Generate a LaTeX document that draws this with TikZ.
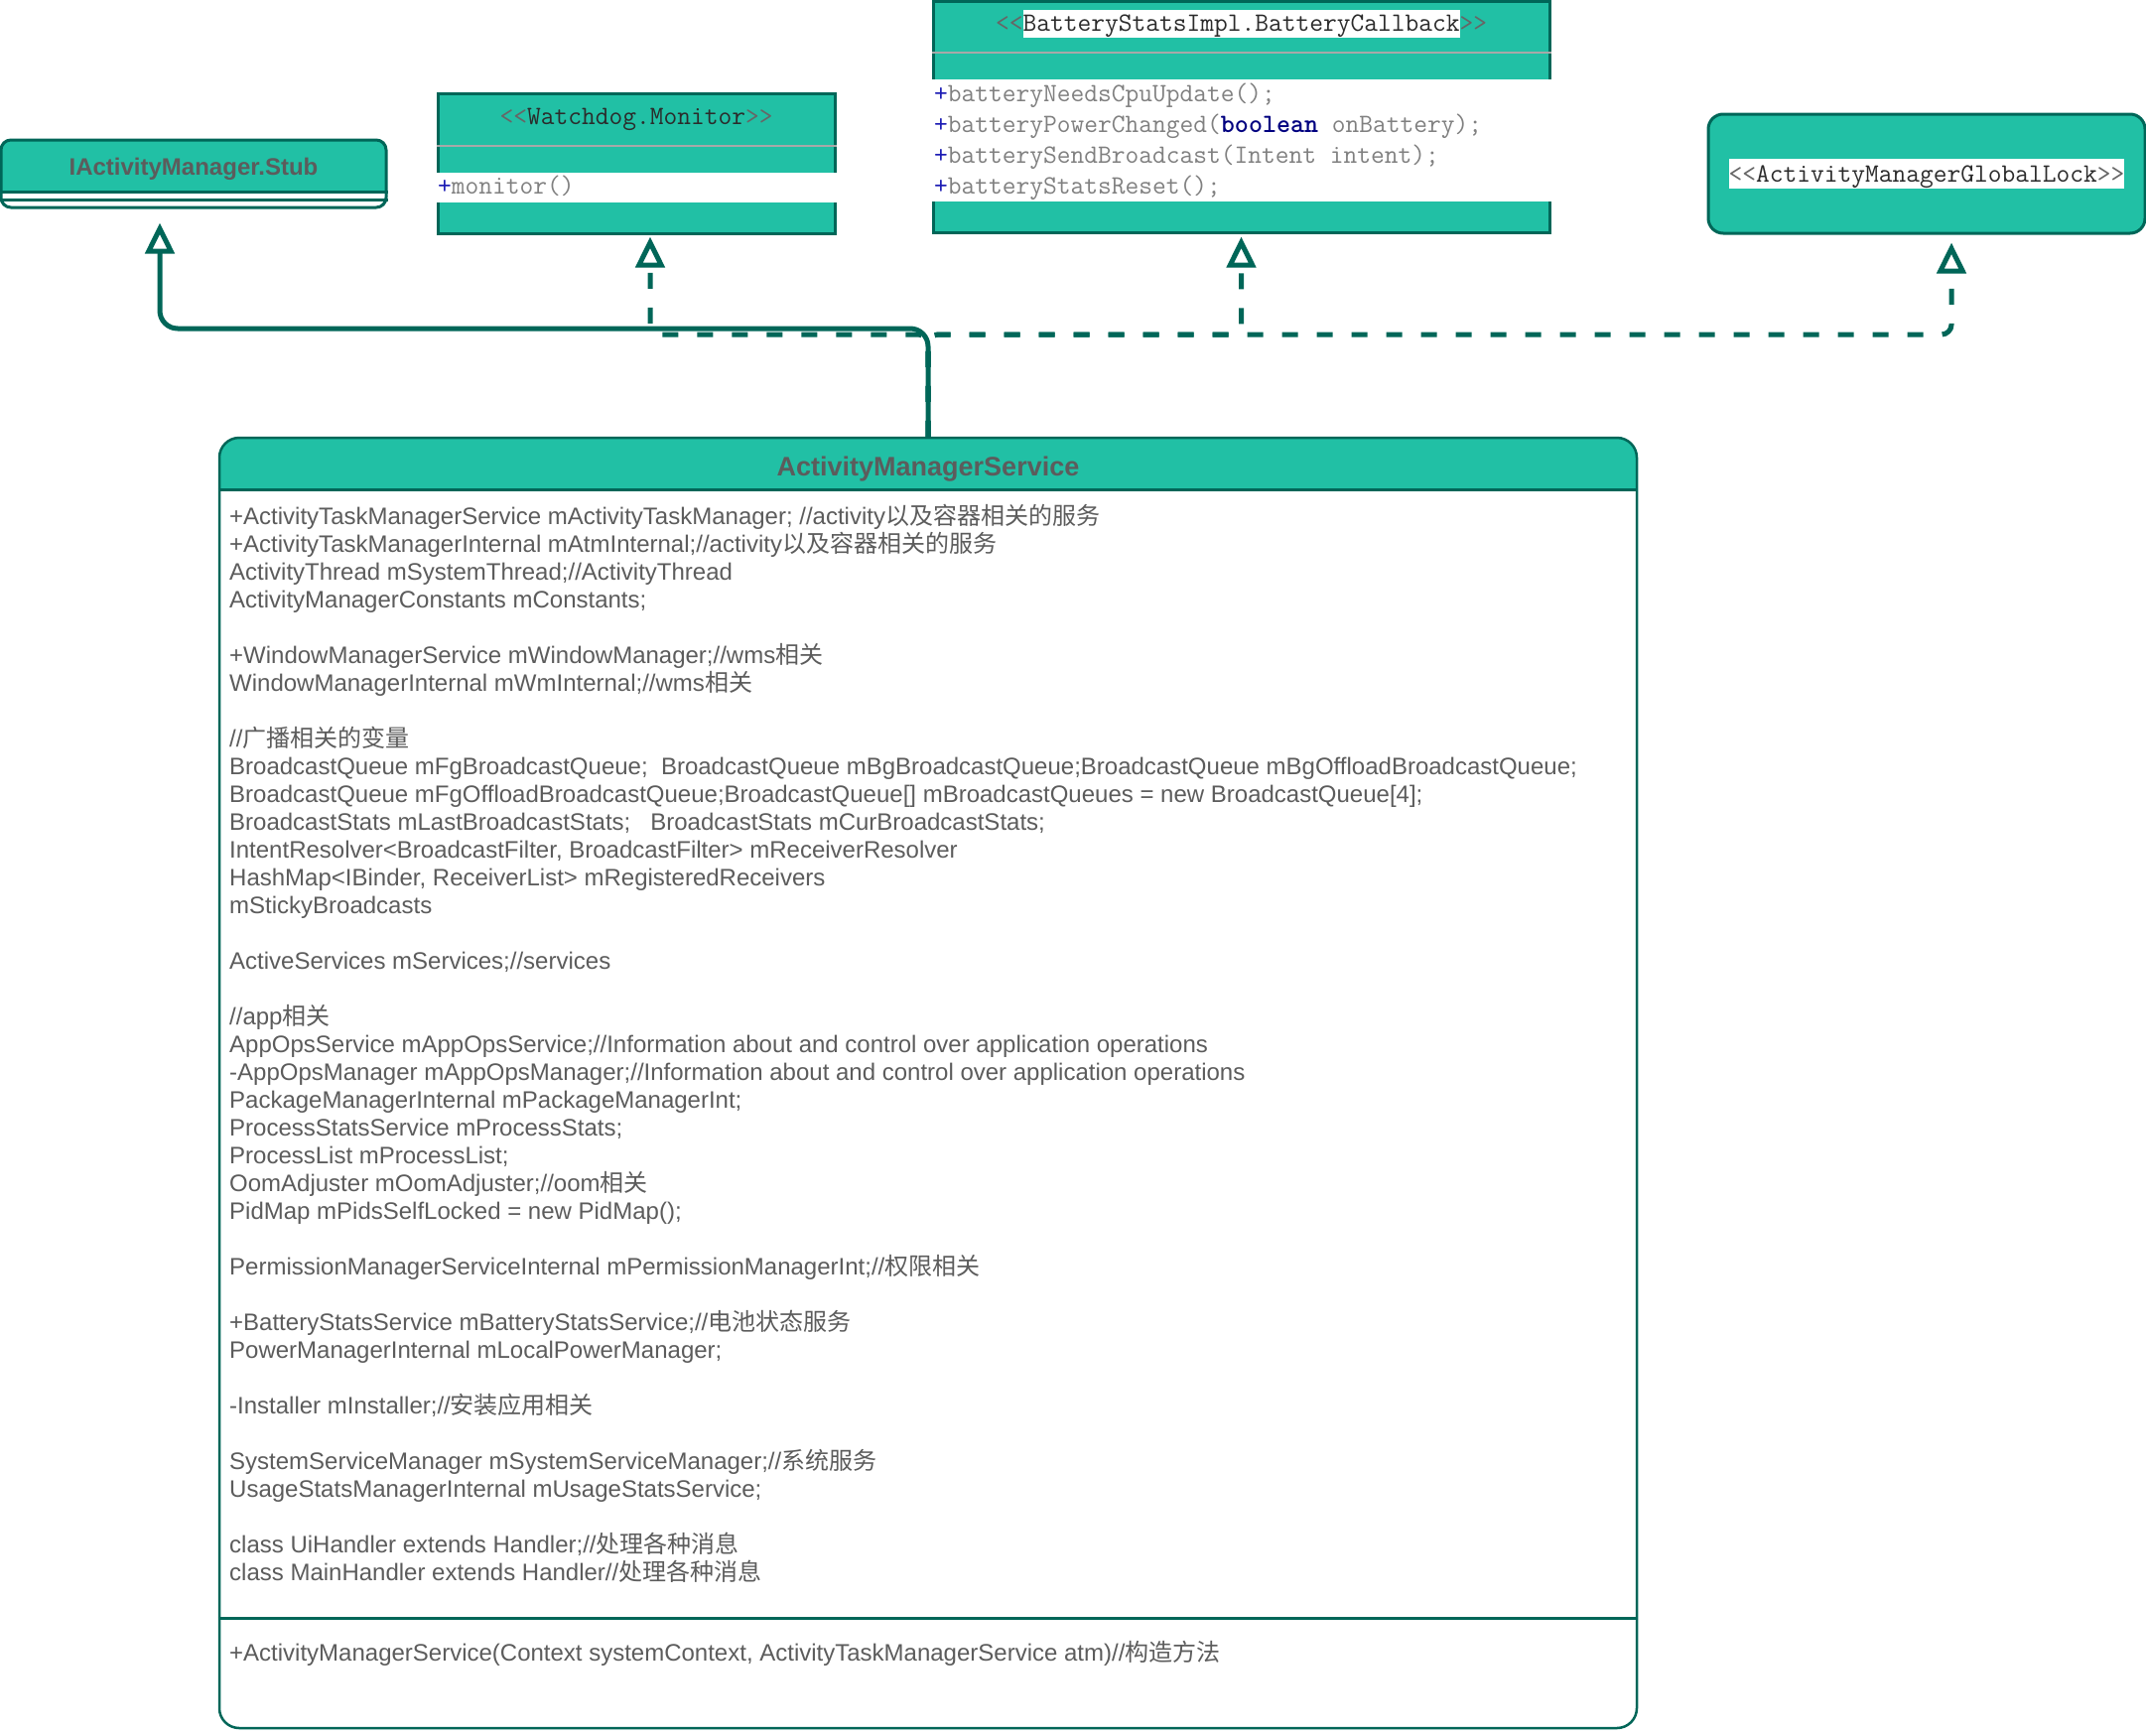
\documentclass[tikz,border=0pt]{standalone}
\usepackage{fontspec}
\setmainfont{Liberation Sans}
\newfontfamily\cjk{Noto Sans CJK SC}
\usetikzlibrary{arrows.meta}
\definecolor{boxFill}{HTML}{21C0A5}
\definecolor{boxLine}{HTML}{006658}
\definecolor{ink}{HTML}{5C5C5C}
\definecolor{sepGrey}{HTML}{A8A8A8}
\definecolor{codeGrey}{HTML}{808080}
\definecolor{guilGrey}{HTML}{666666}
\definecolor{codeInk}{HTML}{2B2B2B}
\definecolor{plusBlue}{HTML}{1C1CB4}
\definecolor{kwNavy}{HTML}{000080}
\newcommand{\zh}[1]{{\cjk #1}}
\newcommand{\ltlt}{\textcolor{guilGrey}{<\kern0pt<}}
\newcommand{\gtgt}{\textcolor{guilGrey}{>\kern0pt>}}
\newcommand{\hilite}[3]{{\setlength{\fboxsep}{0pt}\colorbox{white}{\rule[-#1]{0pt}{#2}#3}}}
\newcommand{\plus}{\textcolor{plusBlue}{+}}
\tikzset{
  classbox/.style={draw=boxLine,fill=boxFill,line width=3pt,inner sep=0pt},
  outline/.style={draw=boxLine,line width=2.5pt,inner sep=0pt},
  sepline/.style={draw=sepGrey,line width=2pt},
  divline/.style={draw=boxLine,line width=3pt},
  strip/.style={fill=white},
  titletext/.style={font=\bfseries\fontsize{24}{28}\selectfont,text=ink,inner sep=0pt,anchor=base},
  bodytext/.style={font=\fontsize{24}{28}\selectfont,text=ink,inner sep=0pt,anchor=base west},
  codetext/.style={font=\fontsize{26.7}{30}\selectfont\ttfamily,text=codeGrey,inner sep=0pt,anchor=base west},
  stereo/.style={font=\fontsize{26.7}{30}\selectfont\ttfamily,text=codeInk,inner sep=0pt,anchor=base},
  extendflow/.style={-{Triangle[fill=white,length=31pt,width=29pt]},line width=5pt,draw=boxLine,rounded corners=18pt},
  implflow/.style={extendflow,dash pattern=on 16pt off 19pt,rounded corners=10pt}
}

\begin{document}
\begin{tikzpicture}[x=1pt,y=-1pt]
\useasboundingbox (0,0) rectangle (2162,1748);

\fill[white,rounded corners=10pt] (1,141) rectangle (389,209);
\begin{scope}
  \clip (0,130) rectangle (390,193);
  \fill[boxFill,rounded corners=10pt] (1,141) rectangle (389,209);
\end{scope}
\node[outline,line width=3pt,rounded corners=10pt,minimum width=388pt,minimum height=68pt] (stub) at (195,175) {};
\draw[divline] (stub.west |- 0,193) -- (stub.east |- 0,193);
\draw[divline] (stub.west |- 0,201) -- (stub.east |- 0,201);
\node[titletext] (stubName) at (195,176.7) {IActivityManager.Stub};

\node[classbox,minimum width=400pt,minimum height=141pt] (wd) at (641,164.5) {};
\draw[sepline] (wd.west |- 0,147) -- (wd.east |- 0,147);
\fill[strip] (439.5,174) rectangle (842.5,204);
\node[stereo] (wdName) at (641,125) {\ltlt Watchdog.Monitor\gtgt};
\node[codetext] (wdOp) at (441,195) {\plus monitor()};

\node[classbox,minimum width=621pt,minimum height=233pt] (cb) at (1250.5,117.5) {};
\draw[sepline] (cb.west |- 0,53) -- (cb.east |- 0,53);
\fill[strip] (938.5,80) rectangle (1562.5,203);
\node[stereo] (cbName) at (1250.5,31.7) {\ltlt\hilite{4.5pt}{26pt}{BatteryStatsImpl.BatteryCallback}\gtgt};
\node[codetext] (cbOp1) at (941,102) {\plus batteryNeedsCpuUpdate();};
\node[codetext] (cbOp2) at (941,133) {\plus batteryPowerChanged(\textcolor{kwNavy}{\bfseries boolean} onBattery);};
\node[codetext] (cbOp3) at (941,164) {\plus batterySendBroadcast(Intent intent);};
\node[codetext] (cbOp4) at (941,195) {\plus batteryStatsReset();};

\node[classbox,rounded corners=15pt,minimum width=440pt,minimum height=120pt] (lock) at (1941,175) {};
\node[stereo] (lockName) at (1941,183) {\hilite{7pt}{30pt}{\ltlt ActivityManagerGlobalLock\gtgt}};

\fill[white,rounded corners=20pt] (221,441) rectangle (1649,1741);
\begin{scope}
  \clip (215,435) rectangle (1655,493);
  \fill[boxFill,rounded corners=20pt] (221,441) rectangle (1649,1741);
\end{scope}
\node[outline,rounded corners=20pt,minimum width=1428pt,minimum height=1300pt] (ams) at (935,1091) {};
\draw[divline] (ams.west |- 0,493) -- (ams.east |- 0,493);
\draw[divline] (ams.west |- 0,1630) -- (ams.east |- 0,1630);
\node[titletext,font=\bfseries\fontsize{27}{30}\selectfont] (amsName) at (935,479) {ActivityManagerService};
\foreach \n/\txt in {
  1/{+ActivityTaskManagerService mActivityTaskManager; //activity\zh{以及容器相关的服务}},
  2/{+ActivityTaskManagerInternal mAtmInternal;//activity\zh{以及容器相关的服务}},
  3/{ActivityThread mSystemThread;//ActivityThread},
  4/{ActivityManagerConstants mConstants;},
  6/{+WindowManagerService mWindowManager;//wms\zh{相关}},
  7/{WindowManagerInternal mWmInternal;//wms\zh{相关}},
  9/{//\zh{广播相关的变量}},
  10/{BroadcastQueue mFgBroadcastQueue;\ \ BroadcastQueue mBgBroadcastQueue;BroadcastQueue mBgOffloadBroadcastQueue;},
  11/{BroadcastQueue mFgOffloadBroadcastQueue;BroadcastQueue[] mBroadcastQueues = new BroadcastQueue[4];},
  12/{BroadcastStats mLastBroadcastStats;\ \ \ BroadcastStats mCurBroadcastStats;},
  13/{IntentResolver<BroadcastFilter, BroadcastFilter> mReceiverResolver},
  14/{HashMap<IBinder, ReceiverList> mRegisteredReceivers},
  15/{mStickyBroadcasts},
  17/{ActiveServices mServices;//services},
  19/{//app\zh{相关}},
  20/{AppOpsService mAppOpsService;//Information about and control over application operations},
  21/{-AppOpsManager mAppOpsManager;//Information about and control over application operations},
  22/{PackageManagerInternal mPackageManagerInt;},
  23/{ProcessStatsService mProcessStats;},
  24/{ProcessList mProcessList;},
  25/{OomAdjuster mOomAdjuster;//oom\zh{相关}},
  26/{PidMap mPidsSelfLocked = new PidMap();},
  28/{PermissionManagerServiceInternal mPermissionManagerInt;//\zh{权限相关}},
  30/{+BatteryStatsService mBatteryStatsService;//\zh{电池状态服务}},
  31/{PowerManagerInternal mLocalPowerManager;},
  33/{-Installer mInstaller;//\zh{安装应用相关}},
  35/{SystemServiceManager mSystemServiceManager;//\zh{系统服务}},
  36/{UsageStatsManagerInternal mUsageStatsService;},
  38/{class UiHandler extends Handler;//\zh{处理各种消息}},
  39/{class MainHandler extends Handler//\zh{处理各种消息}}}
  \node[bodytext] (amsF\n) at (231,{528+28*(\n-1)}) {\txt};
\node[bodytext] (amsCtor) at (231,1673) {+ActivityManagerService(Context systemContext, ActivityTaskManagerService atm)//\zh{构造方法}};

\draw[implflow,shorten >=2pt] (ams.north) -- (ams.north |- 0,337) -| ([xshift=14pt]wd.south);
\draw[implflow,shorten >=3pt] (ams.north) -- (ams.north |- 0,337) -| (cb.south);
\draw[implflow,shorten >=8pt] (ams.north) -- (ams.north |- 0,337) -| ([xshift=25pt]lock.south);
\draw[extendflow,shorten >=14pt] (ams.north) -- (ams.north |- 0,331) -| ([xshift=-34pt]stub.south);
\end{tikzpicture}
\end{document}
